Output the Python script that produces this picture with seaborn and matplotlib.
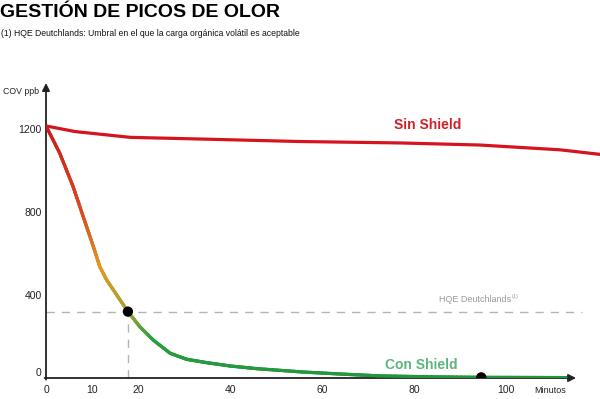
import numpy as np
import pandas as pd
import seaborn as sns
import matplotlib.pyplot as plt
import matplotlib.transforms as mtransforms
from matplotlib.collections import LineCollection
from matplotlib.colors import LinearSegmentedColormap

# values (minutes / COV ppb)
sin_min = [0, 6.3, 18.3, 33.5, 55, 77, 94.3, 111.7, 120.4]
sin_ppb = [1215, 1188, 1160, 1152, 1140, 1133, 1123, 1100, 1078]

con_min = [0, 3.0, 5.9, 8.1, 10.3, 11.7, 13.2, 17.8, 20.4, 23.3, 27, 30.6, 34.9,
           40, 45.8, 55.7, 65, 72.6, 85, 94.6, 113]
con_ppb = [1215, 1083, 922, 777, 633, 536, 472, 320, 247, 183, 119, 90, 74,
           58, 45, 29, 18, 10, 5, 3, 2]

hqe_limit = 320
dot_min = [17.8, 94.6]
dot_ppb = [320, 3]

x_ticks = [0, 10, 20, 40, 60, 80, 100]
y_ticks = [0, 400, 800, 1200]

sns.set_style("white")
plt.rcParams['font.family'] = ['Liberation Sans', 'DejaVu Sans']

fig = plt.figure(figsize=(6, 3.99), dpi=100)
ax = fig.add_axes([46 / 600, 21 / 399, 554 / 600, 295 / 399])

sin = pd.DataFrame({'min': sin_min, 'ppb': sin_ppb})
con = pd.DataFrame({'min': con_min, 'ppb': con_ppb})

# threshold reference lines
ax.hlines(hqe_limit, 0, 116.5, colors='#b5b5b5', linestyles=(0, (6, 5)), lw=1, zorder=1)
ax.vlines(dot_min[0], 0, hqe_limit, colors='#b5b5b5', linestyles=(0, (6, 5)), lw=1, zorder=1)

sns.lineplot(data=sin, x='min', y='ppb', color='#d5141f', lw=2.3, ax=ax, zorder=3)
sns.lineplot(data=con, x='min', y='ppb', color='#23983d', lw=2.3, ax=ax, zorder=3)

# colour gradient along the "Con Shield" curve (red -> orange -> green)
cmap = LinearSegmentedColormap.from_list('odor', [
    (0.0, '#22963c'), (180 / 1215, '#28a040'), (320 / 1215, '#aaa22c'),
    (530 / 1215, '#e8961c'), (780 / 1215, '#df4a1f'), (1.0, '#d5141f')])
xs, ys = [], []
for i in range(len(con_min) - 1):
    t = np.linspace(0, 1, 12)[:-1]
    xs.extend(con_min[i] + t * (con_min[i + 1] - con_min[i]))
    ys.extend(con_ppb[i] + t * (con_ppb[i + 1] - con_ppb[i]))
xs.append(con_min[-1]); ys.append(con_ppb[-1])
pts = np.column_stack([xs, ys]).reshape(-1, 1, 2)
segs = np.concatenate([pts[:-1], pts[1:]], axis=1)
lc = LineCollection(segs, colors=cmap((np.array(ys[:-1]) + np.array(ys[1:])) / 2 / 1215),
                    lw=2.3, capstyle='round', zorder=4)
ax.add_collection(lc)

sns.scatterplot(x=dot_min, y=dot_ppb, color='black', s=55, ax=ax, zorder=5, edgecolor='none')

ax.set_xlim(0, 120.4)
ax.set_ylim(0, 1422)
for s in ax.spines.values():
    s.set_visible(False)
ax.set_xticks(x_ticks)
ax.set_yticks(y_ticks)
ax.tick_params(length=0, labelsize=7.5, colors='#222222')
ax.tick_params(axis='x', pad=5)
ax.tick_params(axis='y', pad=3)
ax.set_xlabel('')
ax.set_ylabel('')
# the "0" label sits a little above the baseline in the reference
lab0 = ax.get_yticklabels()[0]
lab0.set_transform(lab0.get_transform() + mtransforms.ScaledTranslation(0, 6 / 100, fig.dpi_scale_trans))

# axes with arrow heads
arrow = dict(arrowstyle='-|>', color='#222222', lw=1.3, mutation_scale=11, shrinkA=0, shrinkB=0)
ax.annotate('', xy=(0, 1422), xytext=(0, -8), arrowprops=arrow, annotation_clip=False)
ax.annotate('', xy=(115.2, 0), xytext=(-0.3, 0), arrowprops=arrow, annotation_clip=False)

fig.text(3 / 600, 1 - 91 / 399, 'COV ppb', ha='left', va='center', fontsize=6.3, color='#222222')
ax.text(113, -60, 'Minutos', ha='right', va='center', fontsize=6.5, color='#222222')

ax.text(83, 1220, 'Sin Shield', ha='center', va='center', fontsize=10,
        fontweight='bold', color='#d0202a')
ax.text(81.5, 65, 'Con Shield', ha='center', va='center', fontsize=10,
        fontweight='bold', color='#5cb57e')

t = ax.text(101, 376, 'HQE Deutchlands', ha='right', va='center', fontsize=6.5, color='#9a9a9a')
ax.annotate('(1)', xy=(1, 0.6), xycoords=t, xytext=(1, 0), textcoords='offset points',
            fontsize=4, color='#9a9a9a', va='bottom', ha='left')

fig.text(0.0, 0.99, 'GESTIÓN DE PICOS DE OLOR', ha='left', va='top', fontsize=14,
         fontweight='heavy', color='black')
fig.text(0.002, 0.915, '(1) HQE Deutchlands: Umbral en el que la carga orgánica volátil es aceptable',
         ha='left', va='center', fontsize=6.2, color='#111111')

fig.savefig('out.png', dpi=100)
